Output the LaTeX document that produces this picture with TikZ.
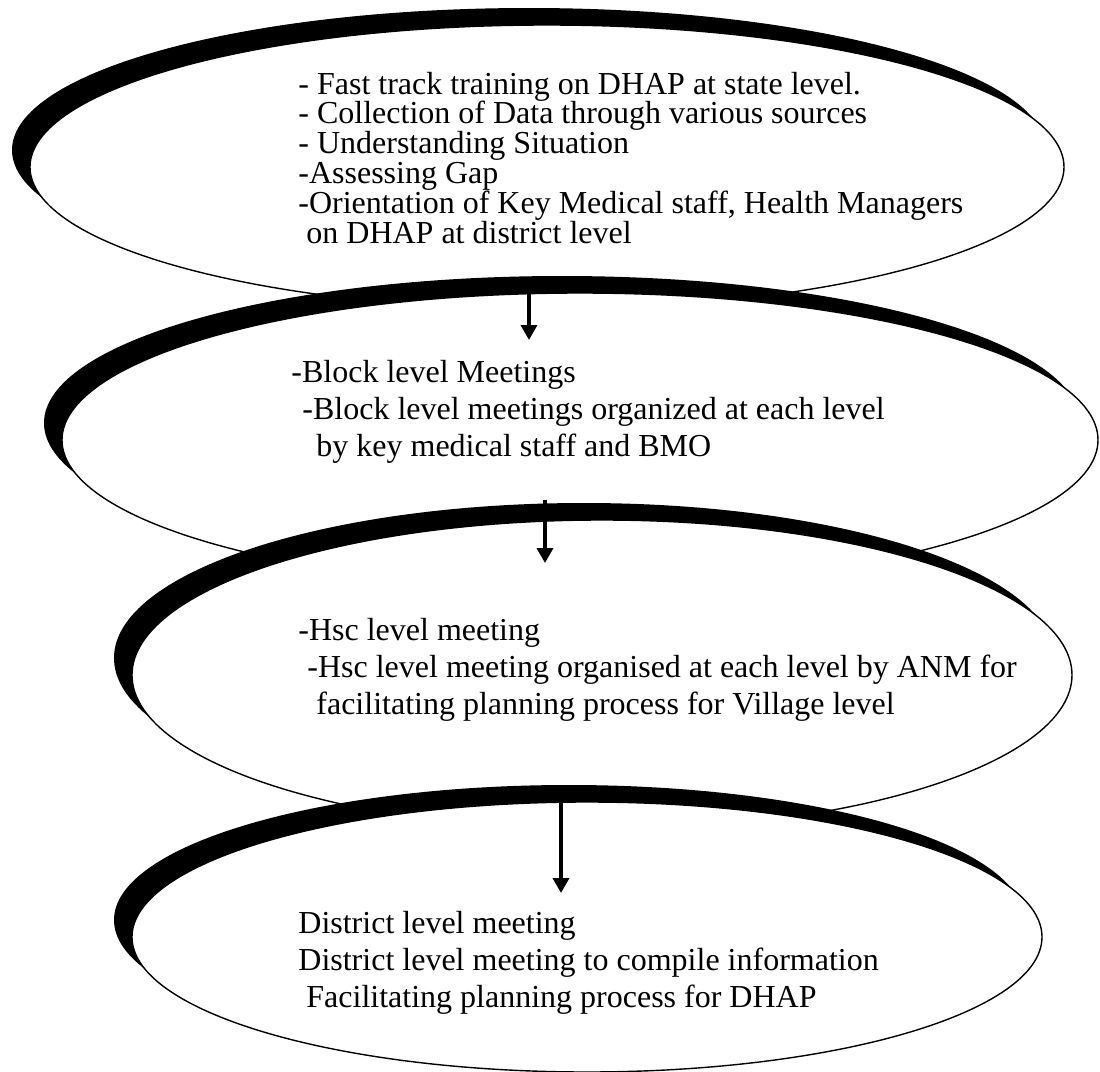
\documentclass[tikz,border=0pt]{standalone}
\usepackage{fontspec}
\setmainfont{Liberation Serif}
\usetikzlibrary{shapes.geometric,shadows,arrows.meta}
\tikzset{
  stage/.style={ellipse, draw=black, line width=0.7pt, fill=white, inner sep=0pt,
    drop shadow={shadow xshift=-9pt, shadow yshift=8.5pt, fill=black, opacity=1}},
  tight/.style={anchor=base west, align=left, inner sep=0pt, font=\fontsize{16pt}{14.9pt}\selectfont},
  loose/.style={anchor=base west, align=left, inner sep=0pt, font=\fontsize{16pt}{18.4pt}\selectfont},
  flow/.style={line width=1.75pt, -{Triangle[width=8pt,length=7.5pt]}}
}
\begin{document}
\begin{tikzpicture}[x=0.5pt,y=-0.5pt]
\fill[white] (0,0) rectangle (1100,1072);
\useasboundingbox (0,0) rectangle (1100,1072);
% stage 1
\node[stage, minimum width=517pt, minimum height=142pt] (e1) at (547,167) {};
\node[tight] (t1) at (298,243) {- Fast track training on DHAP at state level.\\
- Collection of Data through various sources\\
- Understanding Situation\\
-Assessing Gap\\
-Orientation of Key Medical staff, Health Managers\\
\hspace*{4pt}on DHAP at district level};
% stage 2
\node[stage, minimum width=518pt, minimum height=147pt] (e2) at (580,440) {};
\node[loose] (t2) at (291,456) {-Block level Meetings\\
\hspace*{5.5pt}-Block level meetings organized at each level\\
\hspace*{12.5pt}by key medical staff and BMO};
% stage 3
\node[stage, minimum width=470pt, minimum height=155pt] (e3) at (602,675) {};
\node[loose] (t3) at (298,714) {-Hsc level meeting\\
\hspace*{4.5pt}-Hsc level meeting organised at each level by ANM for\\
\hspace*{9pt}facilitating planning process for Village level};
% stage 4
\node[stage, minimum width=455pt, minimum height=135pt] (e4) at (587,937) {};
\node[loose] (t4) at (298,1007) {District level meeting\\
District level meeting to compile information\\
\hspace*{4pt}Facilitating planning process for DHAP};
% arrows
\coordinate (a1s) at (529,292);
\coordinate (a1e) at (529,340);
\coordinate (a2s) at (545,500);
\coordinate (a2e) at (545,563);
\coordinate (a3s) at (561,796);
\coordinate (a3e) at (561,893);
\draw[flow] (a1s) -- (a1e);
\draw[flow] (a2s) -- (a2e);
\draw[flow] (a3s) -- (a3e);
\end{tikzpicture}
\end{document}
